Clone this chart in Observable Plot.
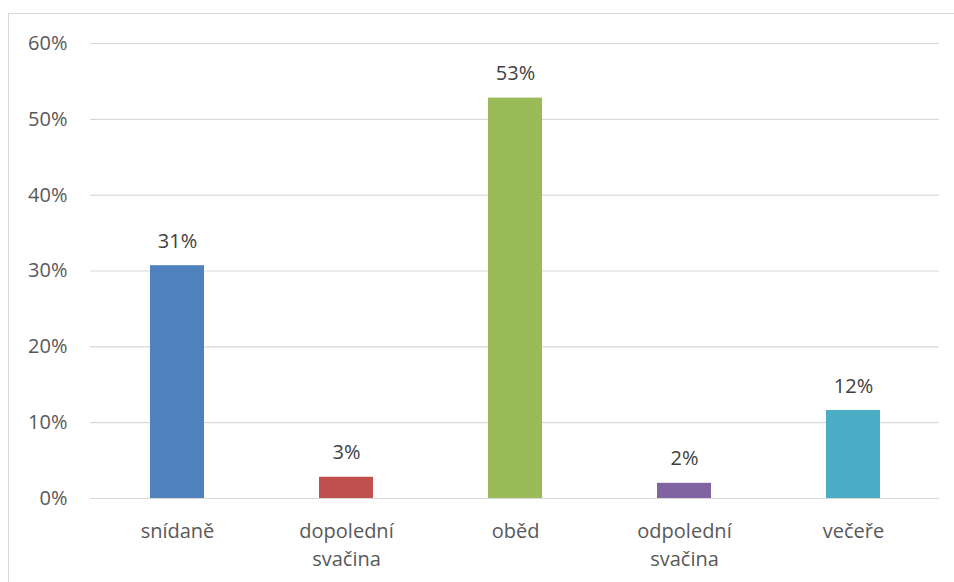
<!DOCTYPE html>
<html>
<head>
<meta charset="utf-8">
<script src="https://cdn.jsdelivr.net/npm/d3@7"></script>
<script src="https://cdn.jsdelivr.net/npm/@observablehq/plot@0.6"></script>
<style>
  html, body { margin: 0; padding: 0; background: #fff; }
  #wrap { position: relative; width: 954px; height: 582px; overflow: hidden; }
  #frame { position: absolute; left: 8px; top: 13px; width: 960px; height: 600px;
           border-left: 1px solid #d9d9d9; border-top: 1px solid #d9d9d9; box-sizing: border-box; }
  #chart { position: absolute; left: 0; top: 0; }
</style>
</head>
<body>
<div id="wrap"><div id="frame"></div><div id="chart"></div></div>
<script>
// Meals of the day and the share of respondents for each
const meals = ["snídaně", "dopolední svačina", "oběd", "odpolední svačina", "večeře"];
const mealLabels = ["snídaně", "dopolední\nsvačina", "oběd", "odpolední\nsvačina", "večeře"];
const shares = [0.307, 0.028, 0.528, 0.020, 0.116];
const yTicks = [0, 0.1, 0.2, 0.3, 0.4, 0.5, 0.6];

const palette = ["#4f81bd", "#c0504d", "#9bbb59", "#8064a2", "#4bacc6"];

const data = meals.map((meal, i) => ({meal, share: shares[i]}));
const labelOf = new Map(meals.map((m, i) => [m, mealLabels[i]]));
const pct = d3.format(".0%");

const chart = Plot.plot({
  width: 954,
  height: 582,
  marginLeft: 90,
  marginRight: 15,
  marginTop: 43,
  marginBottom: 84,
  style: {fontFamily: "'Open Sans', sans-serif", fontSize: "20px", background: "transparent"},
  x: {domain: meals, paddingInner: 0.682, paddingOuter: 0.341, align: 0.5},
  y: {domain: [0, 0.6]},
  color: {domain: meals, range: palette},
  marks: [
    Plot.gridY(yTicks, {stroke: "#d9d9d9", strokeOpacity: 1, strokeWidth: 1.2}),
    Plot.axisY(yTicks, {tickSize: 0, tickPadding: 23, tickFormat: pct, fill: "#595959", fontSize: 20, label: null}),
    Plot.axisX({tickSize: 0, tickPadding: 20, tickFormat: (d) => labelOf.get(d), fill: "#595959",
                fontSize: 20, lineHeight: 1.4, label: null}),
    Plot.barY(data, {x: "meal", y: "share", fill: "meal"}),
    Plot.text(data, {x: "meal", y: "share", text: (d) => pct(d.share), lineAnchor: "bottom",
                     dy: -18, fill: "#404040", fontSize: 20})
  ]
});
document.getElementById("chart").append(chart);
</script>
</body>
</html>
